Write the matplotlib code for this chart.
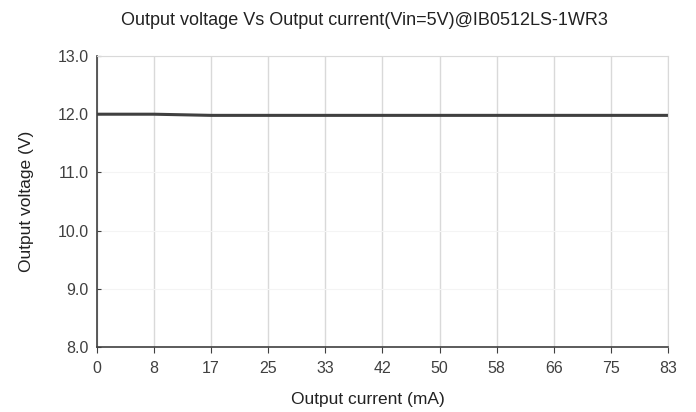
import matplotlib
matplotlib.use("Agg")
import matplotlib.pyplot as plt

plt.rcParams['font.family'] = ['Liberation Sans', 'DejaVu Sans']

# load points (mA) and measured output voltage
current_labels = ["0", "8", "17", "25", "33", "42", "50", "58", "66", "75", "83"]
voltage = [12.00, 12.00, 11.98, 11.98, 11.98, 11.98, 11.98, 11.98, 11.98, 11.98, 11.98]
y_ticks = [8.0, 9.0, 10.0, 11.0, 12.0, 13.0]

fig = plt.figure(figsize=(6.96, 4.12), dpi=100)
ax = fig.add_axes([0.139, 0.158, 0.821, 0.706])

pos = list(range(len(current_labels)))
ax.plot(pos, voltage, color="#404040", linewidth=2.2, solid_capstyle="butt")

ax.set_xlim(0, len(current_labels) - 1)
ax.set_ylim(8.0, 13.0)
ax.set_xticks(pos)
ax.set_xticklabels(current_labels)
ax.set_yticks(y_ticks)
ax.set_yticklabels(["%.1f" % v for v in y_ticks])

ax.grid(axis="x", color="#d9d9d9", linewidth=1.0)
ax.grid(axis="y", color="#f4f4f4", linewidth=0.8)
ax.set_axisbelow(True)

for s in ["top", "right"]:
    ax.spines[s].set_color("#d9d9d9")
for s in ["left", "bottom"]:
    ax.spines[s].set_color("#404040")
    ax.spines[s].set_linewidth(1.2)

ax.tick_params(axis="x", direction="out", length=4, color="#404040", labelsize=11.5,
               labelcolor="#404040", pad=6)
ax.tick_params(axis="y", direction="in", length=3, color="#404040", labelsize=11.5,
               labelcolor="#404040", pad=6)

ax.set_xlabel("Output current (mA)", fontsize=12.5, color="#222222", labelpad=11)
ax.xaxis.set_label_coords(0.475, -0.155)
ax.set_ylabel("Output voltage (V)", fontsize=12.5, color="#222222", labelpad=17)
fig.suptitle("Output voltage Vs Output current(Vin=5V)@IB0512LS-1WR3", fontsize=13,
             color="#222222", x=0.524, y=0.97)

fig.savefig("out.png", dpi=100)
